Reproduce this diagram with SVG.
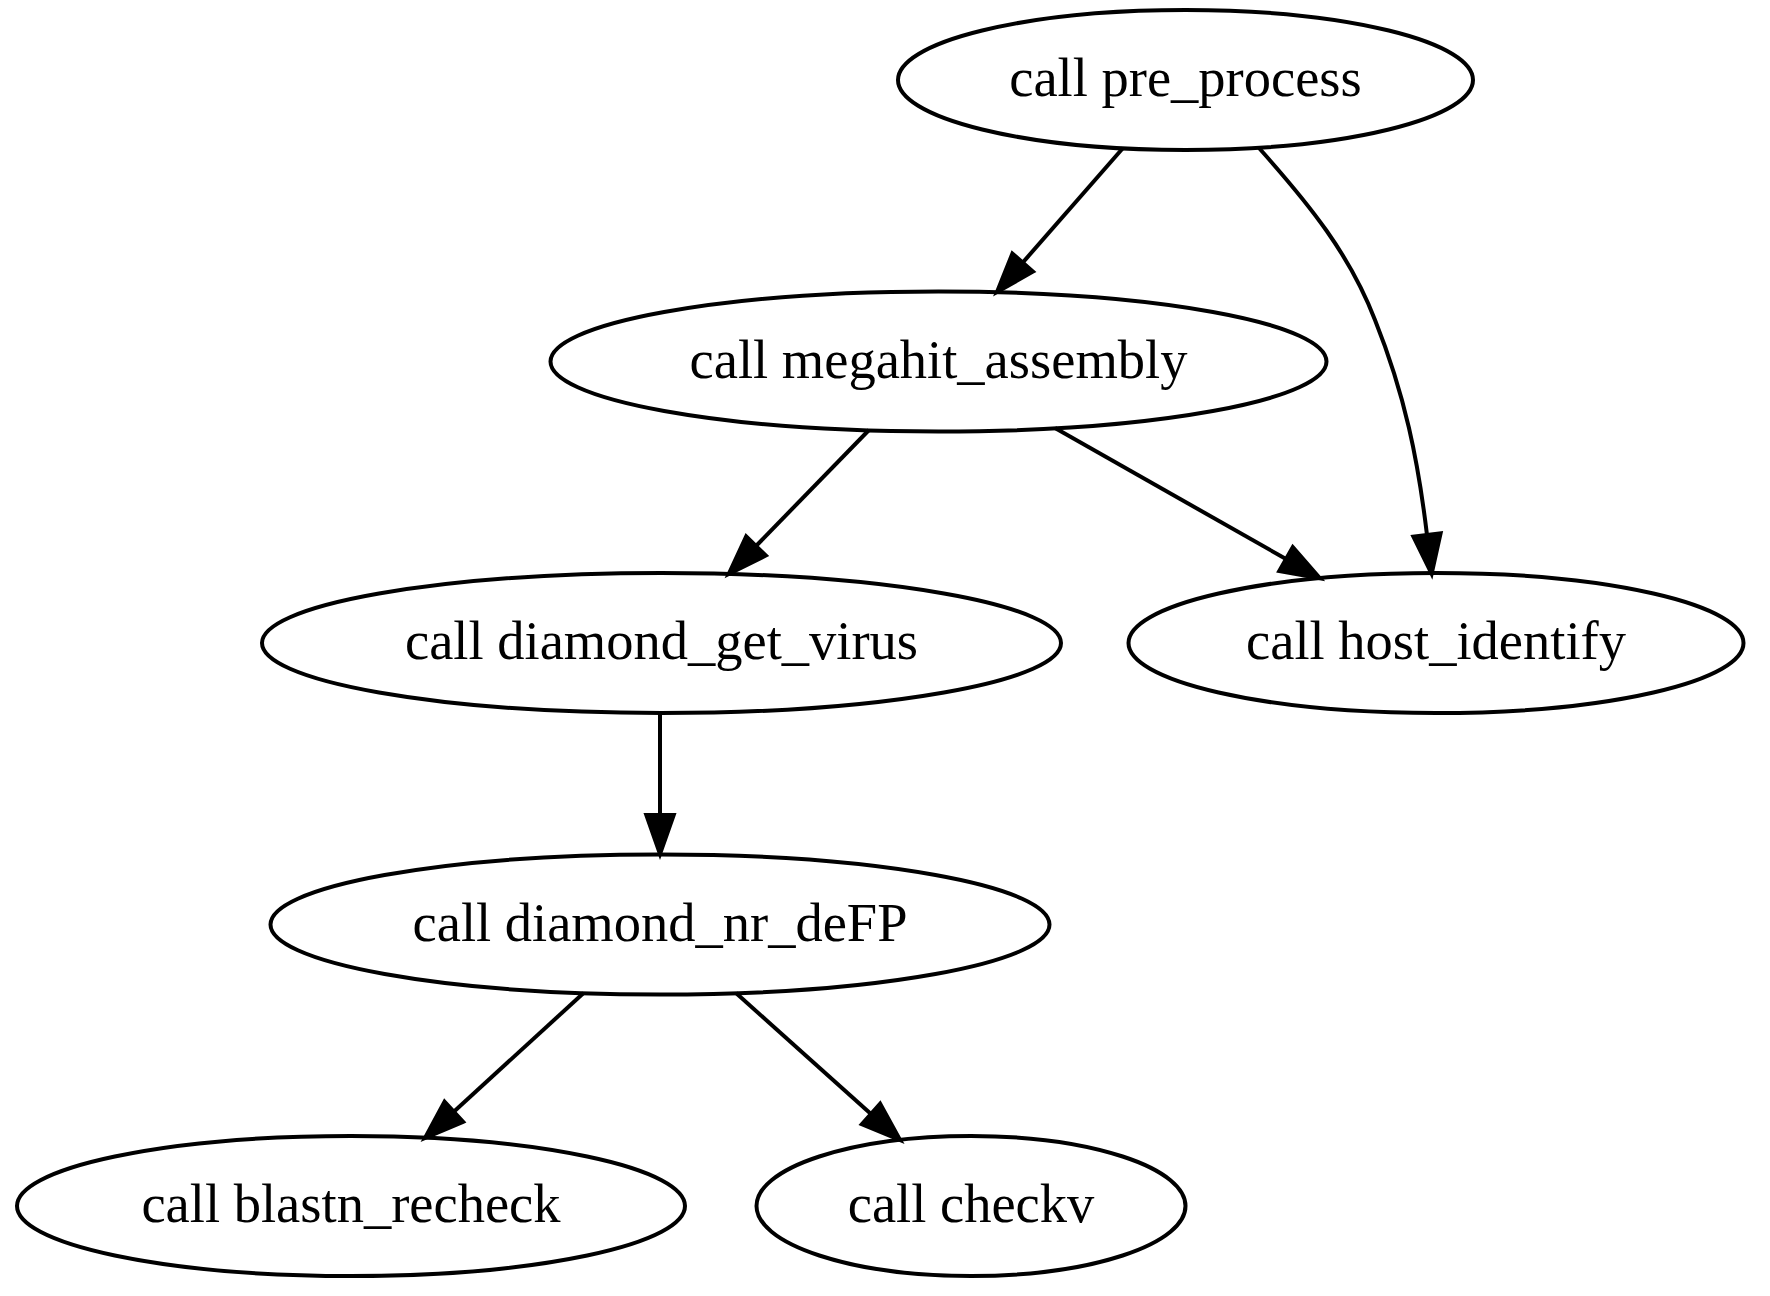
<svg xmlns="http://www.w3.org/2000/svg" width="1770" height="1296" viewBox="0 0 1770 1296">
<style>
.node ellipse{fill:none;stroke:#000;stroke-width:4}
.node text{font-family:"Liberation Serif","Times New Roman",serif;font-size:54.5px;text-anchor:middle;fill:#000}
.edge{fill:none;stroke:#000;stroke-width:4}
</style>
<defs>
<marker id="arr" markerUnits="userSpaceOnUse" markerWidth="42" markerHeight="30" refX="0" refY="14" orient="auto" viewBox="0 0 42 30" overflow="visible">
<path d="M0,0.3 L39,14 L0,27.7 Z" fill="#000" stroke="#000" stroke-width="4"/>
</marker>
</defs>
<rect width="1770" height="1296" fill="#fff"/>
<g id="connectors">
<path class="edge" d="M1123,148 L1022.7,262.6" marker-end="url(#arr)"/>
<path class="edge" d="M1259,148 C1310,205 1350,255 1375,320 C1405,395 1418,460 1427,535" marker-end="url(#arr)"/>
<path class="edge" d="M1055,428 L1286,559" marker-end="url(#arr)"/>
<path class="edge" d="M869,430 L756,546" marker-end="url(#arr)"/>
<path class="edge" d="M660,713 L660,815" marker-end="url(#arr)"/>
<path class="edge" d="M583.6,993 L453.8,1111.7" marker-end="url(#arr)"/>
<path class="edge" d="M736,993 L871,1114" marker-end="url(#arr)"/>
</g>
<g id="pre_process" class="node"><ellipse cx="1185.5" cy="80" rx="287.5" ry="70"/><text x="1185.5" y="96">call pre_process</text></g>
<g id="megahit_assembly" class="node"><ellipse cx="938.5" cy="361.5" rx="388" ry="70"/><text x="938.5" y="377.5">call megahit_assembly</text></g>
<g id="diamond_get_virus" class="node"><ellipse cx="661.5" cy="643" rx="399.5" ry="70"/><text x="661.5" y="659">call diamond_get_virus</text></g>
<g id="host_identify" class="node"><ellipse cx="1436" cy="643" rx="307.5" ry="70"/><text x="1436" y="659">call host_identify</text></g>
<g id="diamond_nr_deFP" class="node"><ellipse cx="660" cy="924.5" rx="389.5" ry="70"/><text x="660" y="940.5">call diamond_nr_deFP</text></g>
<g id="blastn_recheck" class="node"><ellipse cx="351" cy="1206" rx="334" ry="70"/><text x="351" y="1222">call blastn_recheck</text></g>
<g id="checkv" class="node"><ellipse cx="971" cy="1206" rx="214.5" ry="70"/><text x="971" y="1222">call checkv</text></g>
</svg>
